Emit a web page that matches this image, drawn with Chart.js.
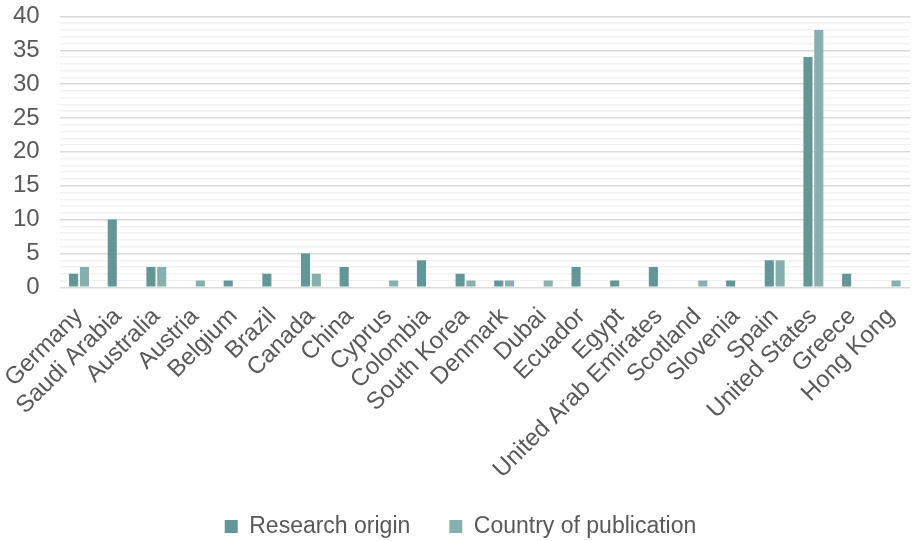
<!DOCTYPE html>
<html>
<head>
<meta charset="utf-8">
<script src="https://cdn.jsdelivr.net/npm/chart.js@4/dist/chart.umd.min.js"></script>
<style>
  html, body { margin: 0; padding: 0; background: #fff; }
  #wrap { width: 912px; height: 541px; }
</style>
</head>
<body>
<div id="wrap"><canvas id="canvas"></canvas></div>
<script>
const countries = ['Germany', 'Saudi Arabia', 'Australia', 'Austria', 'Belgium', 'Brazil', 'Canada', 'China',
  'Cyprus', 'Colombia', 'South Korea', 'Denmark', 'Dubai', 'Ecuador', 'Egypt', 'United Arab Emirates',
  'Scotland', 'Slovenia', 'Spain', 'United States', 'Greece', 'Hong Kong']
const researchOrigin = [2, 10, 3, 0, 1, 2, 5, 3, 0, 4, 2, 1, 0, 3, 1, 3, 0, 1, 4, 34, 2, 0]
const countryOfPublication = [3, 0, 3, 1, 0, 0, 2, 0, 1, 0, 1, 1, 1, 0, 0, 0, 1, 0, 4, 38, 0, 1]
const yMax = 40

Chart.defaults.font.family = "'Liberation Sans', Arial, sans-serif"
Chart.defaults.color = '#595959'

const ctx = document.getElementById('canvas')
new Chart(ctx, {
  type: 'bar',
  data: {
    labels: countries,
    datasets: [{
      label: 'Research origin',
      data: researchOrigin,
      backgroundColor: '#639797',
      categoryPercentage: 0.56,
      barPercentage: 0.84
    }, {
      label: 'Country of publication',
      data: countryOfPublication,
      backgroundColor: '#87afad',
      categoryPercentage: 0.56,
      barPercentage: 0.84
    }]
  },
  options: {
    responsive: true,
    maintainAspectRatio: false,
    animation: false,
    layout: { padding: { top: 0, right: 2, bottom: -7, left: 11 } },
    plugins: {
      tooltip: { enabled: false },
      legend: {
        position: 'bottom',
        labels: {
          font: { size: 23 },
          boxWidth: 13,
          boxHeight: 13,
          padding: 39
        }
      }
    },
    scales: {
      x: {
        clip: false,
        grid: { display: false },
        border: { display: false },
        afterFit: (scale) => {
          scale.height -= 15
          scale.paddingLeft = 0
          scale.paddingRight = 0
        },
        ticks: {
          font: { size: 24 },
          minRotation: 45,
          maxRotation: 45,
          autoSkip: false,
          padding: 7
        }
      },
      y: {
        min: 0,
        max: yMax,
        border: { display: false },
        grid: {
          color: (c) => c.tick && c.tick.value % 5 === 0 ? '#d9d9d9' : '#f2f2f2',
          lineWidth: 1.5,
          drawTicks: true,
          tickLength: 18,
          tickColor: 'rgba(0,0,0,0)'
        },
        ticks: {
          stepSize: 1,
          autoSkip: false,
          font: { size: 24 },
          padding: 2,
          callback: (v) => v % 5 === 0 ? v : ''
        }
      }
    }
  }
})
</script>
</body>
</html>
